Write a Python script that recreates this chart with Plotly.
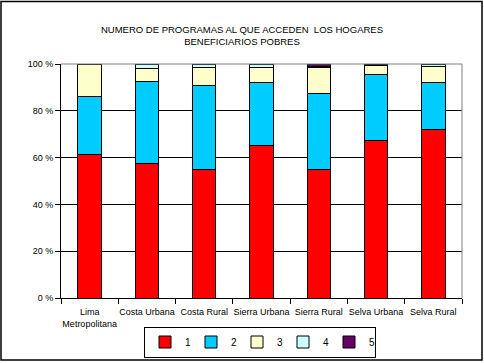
import plotly.graph_objects as go

categories = ["Lima<br>Metropolitana", "Costa Urbana", "Costa Rural", "Sierra Urbana",
              "Sierra Rural", "Selva Urbana", "Selva Rural"]
s1 = [61.2, 57.3, 55.1, 65.1, 55.1, 67.5, 72.2]
s2 = [24.7, 35.3, 35.8, 27.2, 32.5, 28.2, 19.7]
s3 = [14.1, 5.3, 7.8, 6.0, 10.7, 3.7, 7.1]
s4 = [0.0, 2.1, 1.3, 1.7, 0.7, 0.2, 1.0]
s5 = [0.0, 0.0, 0.0, 0.0, 1.0, 0.4, 0.0]
series_names = ["1", "2", "3", "4", "5"]
colors = ["#FF0000", "#00CCFF", "#FFFFCC", "#CCFFFF", "#660066"]
y_ticks = [0, 20, 40, 60, 80, 100]
y_tick_labels = ["0 %", "20 %", "40 %", "60 %", "80 %", "100 %"]

fig = go.Figure()
for name, vals, col in zip(series_names, [s1, s2, s3, s4, s5], colors):
    fig.add_trace(go.Bar(x=categories, y=vals, name=name,
                         marker=dict(color=col, line=dict(color="black", width=1))))

W, H = 484, 363
ml, mr, mt, mb = 61, 22, 64, 65
pw, ph = W - ml - mr, H - mt - mb

fig.update_layout(
    width=W, height=H, barmode="stack", bargap=0.59,
    margin=dict(l=ml, r=mr, t=mt, b=mb, pad=0, autoexpand=False),
    paper_bgcolor="white", plot_bgcolor="white",
    font=dict(family="Liberation Sans, Arial", size=9, color="black"),
    title=dict(text="NUMERO DE PROGRAMAS AL QUE ACCEDEN  LOS HOGARES<br>BENEFICIARIOS POBRES",
               x=0.5, xanchor="center", y=1 - 33 / H, yanchor="middle",
               font=dict(size=9.5, color="black")),
    showlegend=True,
    legend=dict(orientation="h", x=0.5 + (260 - (ml + pw / 2)) / pw, xanchor="center",
                y=-(342 - (mt + ph)) / ph, yanchor="middle",
                bordercolor="black", borderwidth=1, font=dict(size=10),
                itemwidth=30, entrywidth=1, entrywidthmode="pixels",
                tracegroupgap=0, traceorder="normal"),
    xaxis=dict(showline=True, linecolor="black", linewidth=1, ticks="outside",
               ticklen=5, tickcolor="black", tickson="boundaries", tickangle=0,
               ticklabelstandoff=5,
               automargin=False, showgrid=False, tickfont=dict(size=9)),
    yaxis=dict(range=[0, 100], tickvals=y_ticks, ticktext=y_tick_labels,
               showline=True, linecolor="black", linewidth=1, ticks="outside",
               ticklen=5, tickcolor="black", showgrid=True, gridcolor="black",
               automargin=False, gridwidth=1, zeroline=False, tickfont=dict(size=9)),
)

# plot area border (gray top and right)
fig.add_shape(type="line", xref="paper", yref="paper", x0=0, x1=1, y0=1, y1=1,
              line=dict(color="#808080", width=1))
fig.add_shape(type="line", xref="paper", yref="paper", x0=1, x1=1, y0=0, y1=1,
              line=dict(color="#808080", width=1))
# outer chart border
fig.add_shape(type="rect", xref="paper", yref="paper",
              x0=(1 - ml) / pw, x1=(482 - ml) / pw,
              y0=-(360 - (mt + ph)) / ph, y1=1 + (mt - 1.5) / ph,
              line=dict(color="black", width=1.5), fillcolor="rgba(0,0,0,0)", layer="below")

fig.write_html("out.html", config={"displayModeBar": False},
               post_script="document.body.style.margin='0';document.body.style.overflow='hidden';")
